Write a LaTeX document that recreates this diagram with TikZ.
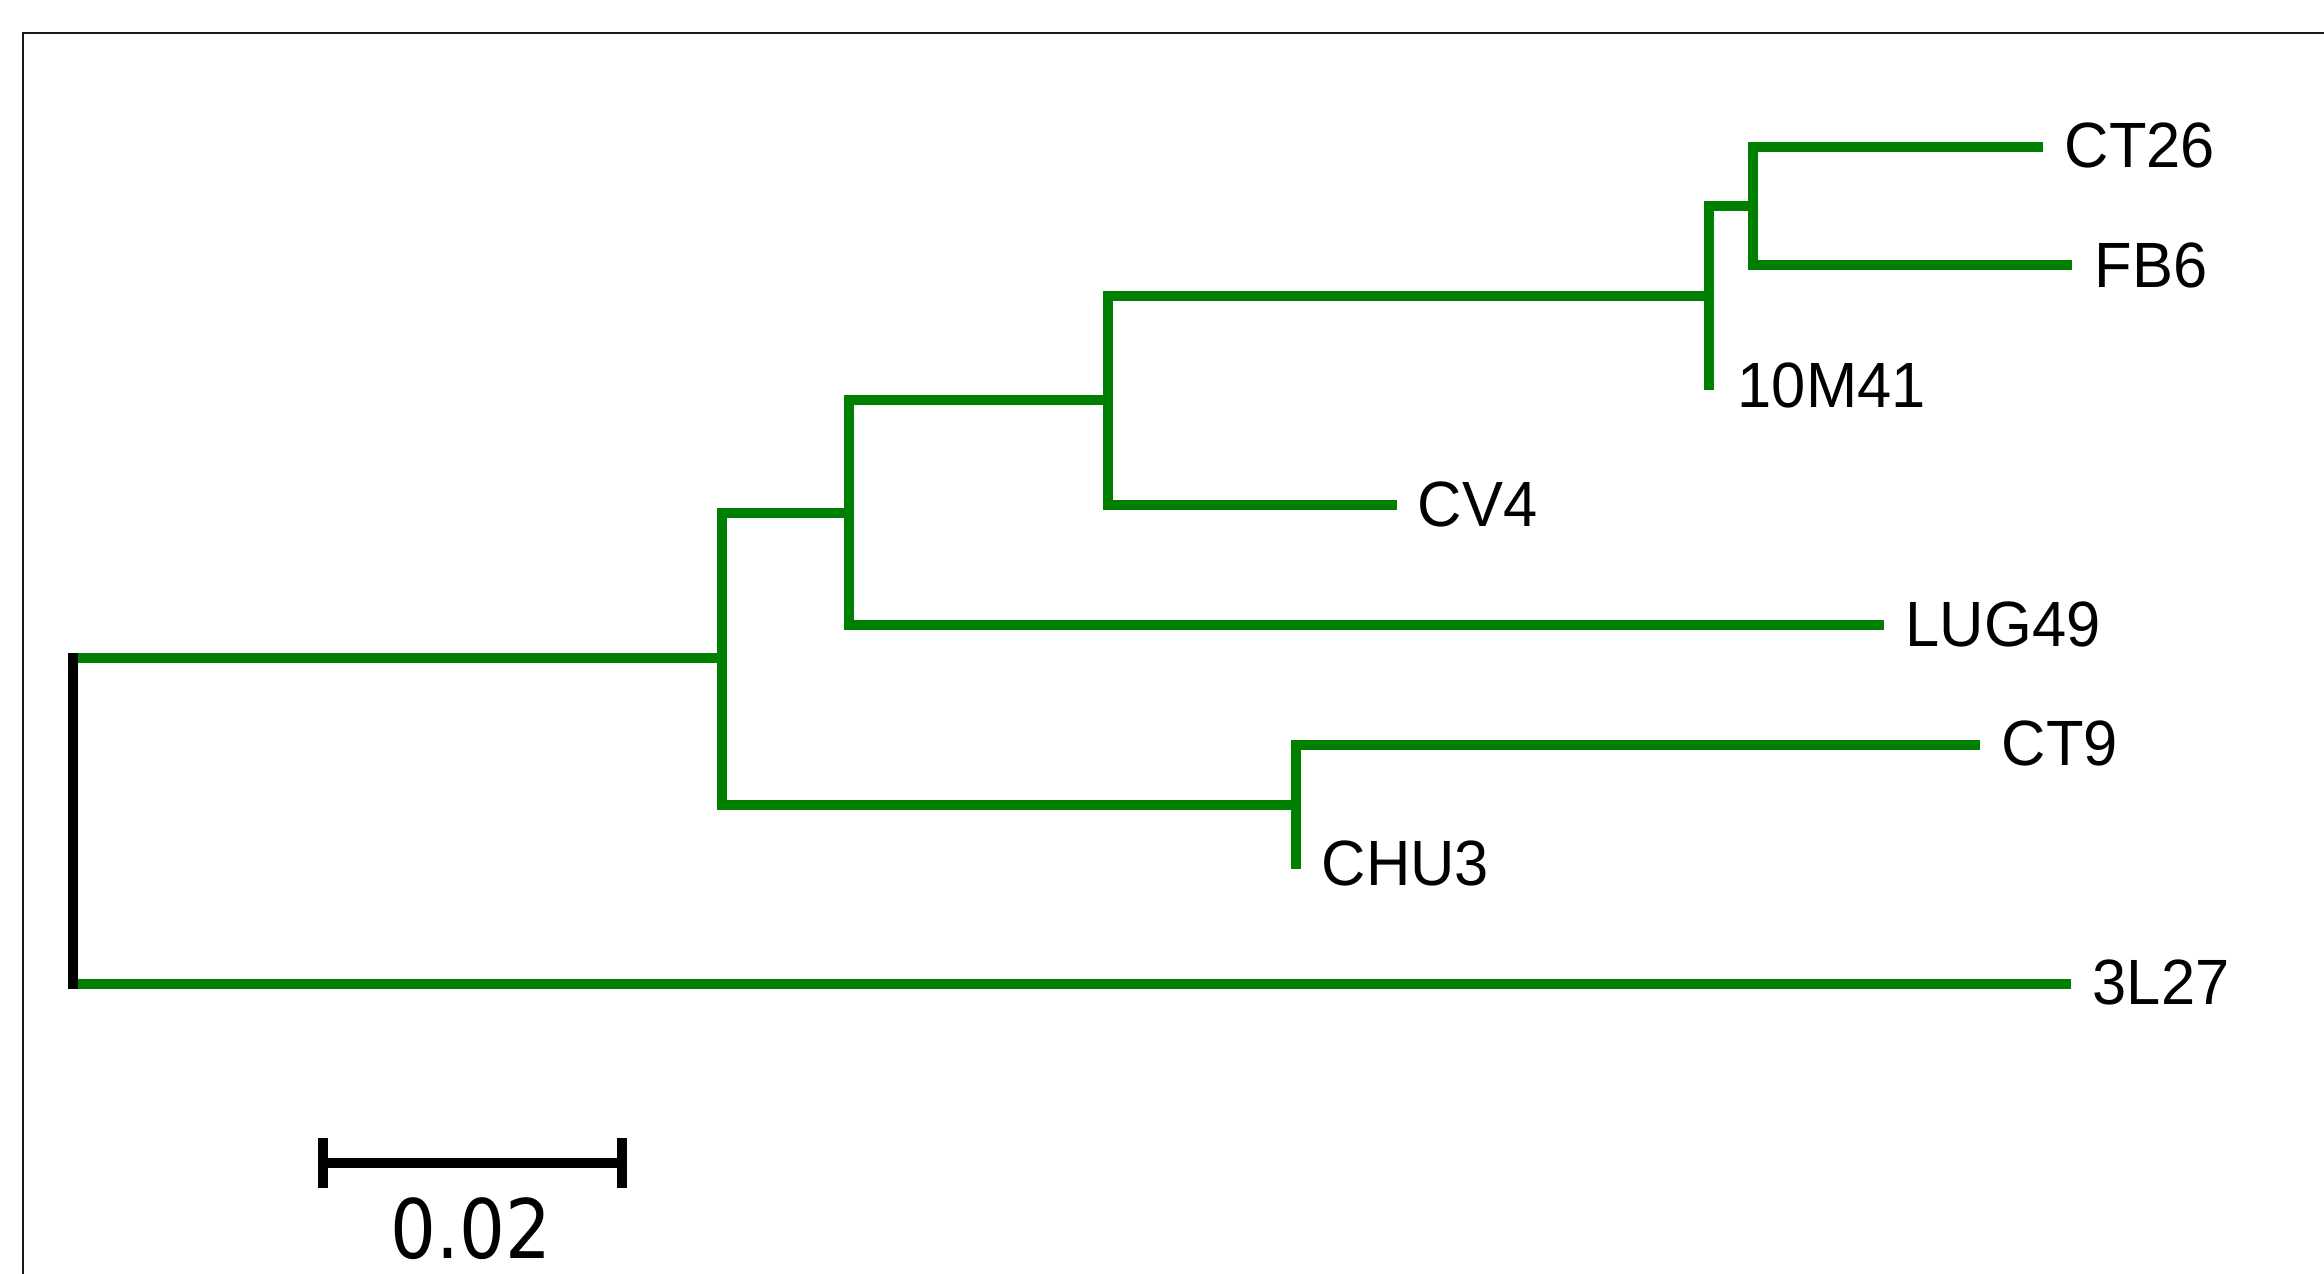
\documentclass[tikz,border=0pt]{standalone}
\usepackage{fontspec}
\newfontfamily\labfont[FakeStretch=0.96]{Liberation Sans}
\newfontfamily\sbfont[FakeStretch=0.88]{DejaVu Sans}
\definecolor{treegreen}{RGB}{0,128,0}
\begin{document}
\begin{tikzpicture}[x=0.3pt,y=-0.3pt,
  branch/.style={draw=treegreen,line width=2.9pt,line cap=butt,line join=miter},
  rootline/.style={draw=black,line width=2.9pt,line cap=rect},
  frameline/.style={draw=black!90,line width=0.65pt},
  sbar/.style={draw=black,line width=3pt,line cap=butt},
  leaf/.style={anchor=base west,inner sep=0pt,font=\labfont\fontsize{19.2}{22}\selectfont},
  sblab/.style={anchor=base,inner sep=0pt,font=\sbfont\fontsize{24.6}{28}\selectfont}]
\useasboundingbox (0,0) rectangle (2324,1273);
\clip (0,0) rectangle (2324,1273);
\fill[white] (0,0) rectangle (2324,1273);
\draw[frameline] (22.7,1300) -- (22.7,33) -- (2350,33);
% junctions
\coordinate (rootTop) at (73,658);
\coordinate (rootBot) at (73,984);
\coordinate (nA) at (722,658);
\coordinate (nB) at (849,513);
\coordinate (nC) at (1108,400);
\coordinate (nD) at (1709,296);
\coordinate (nE) at (1753,206);
\coordinate (nF) at (1296,805);
% tips
\coordinate (tCT26) at (2043,147);
\coordinate (tFB6) at (2072,265);
\coordinate (t10M41) at (1709,390);
\coordinate (tCV4) at (1397,505);
\coordinate (tLUG49) at (1884,625);
\coordinate (tCT9) at (1980,745);
\coordinate (tCHU3) at (1296,869);
\coordinate (t3L27) at (2071,984);
% branches
\draw[branch] (tCT26) -- (tCT26 -| nE) -- (tFB6 -| nE) -- (tFB6);
\draw[branch] (nE) -- (nE -| nD) -- (t10M41);
\draw[branch] (nD) -- (nD -| nC) -- (tCV4 -| nC) -- (tCV4);
\draw[branch] (nC) -- (nC -| nB) -- (tLUG49 -| nB) -- (tLUG49);
\draw[branch] (nB) -- (nB -| nA) -- (nF -| nA) -- (nF);
\draw[branch] (tCT9) -- (tCT9 -| nF) -- (tCHU3);
\draw[branch] (rootTop) -- (nA);
\draw[branch] (rootBot) -- (t3L27);
\draw[rootline] (rootTop) -- (rootBot);
% labels
\node[leaf] (CT26) at (2064,167) {CT26};
\node[leaf] (FB6) at (2094,287) {FB6};
\node[leaf] (L10M41) at (1737,407) {10M41};
\node[leaf] (CV4) at (1417,526) {CV4};
\node[leaf] (LUG49) at (1905,646) {LUG49};
\node[leaf] (CT9) at (2001,765) {CT9};
\node[leaf] (CHU3) at (1321,885) {CHU3};
\node[leaf] (L3L27) at (2092,1004) {3L27};
% scale bar
\coordinate (sbL) at (323,1163);
\coordinate (sbR) at (622,1163);
\draw[sbar] (sbL) -- (sbR);
\draw[sbar] (sbL) ++(0,-25) -- ++(0,50);
\draw[sbar] (sbR) ++(0,-25) -- ++(0,50);
\node[sblab] (sblabel) at (471,1258) {0.02};
\end{tikzpicture}
\end{document}
